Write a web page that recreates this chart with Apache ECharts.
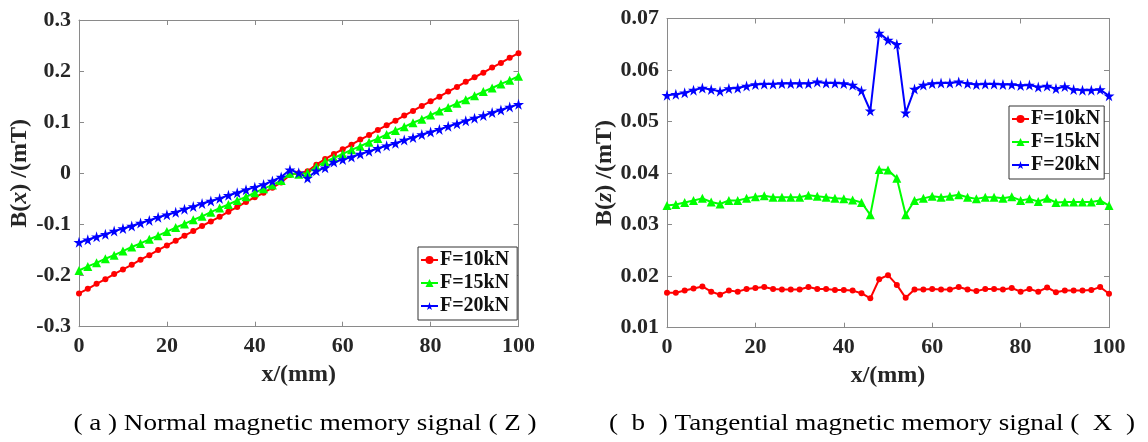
<!DOCTYPE html>
<html>
<head>
<meta charset="utf-8">
<style>
  html, body { margin: 0; padding: 0; background: #fff; }
  #chart { width: 1148px; height: 442px; }
</style>
<script src="https://cdn.jsdelivr.net/npm/echarts@6/dist/echarts.min.js"></script>
</head>
<body>
<div id="chart"></div>
<script>
// Scan positions along the specimen (mm)
const positions = [0, 2, 4, 6, 8, 10, 12, 14, 16, 18, 20, 22, 24, 26, 28, 30, 32, 34, 36, 38, 40, 42, 44, 46, 48, 50,
  52, 54, 56, 58, 60, 62, 64, 66, 68, 70, 72, 74, 76, 78, 80, 82, 84, 86, 88, 90, 92, 94, 96, 98, 100];

const seriesNames = ['F=10kN', 'F=15kN', 'F=20kN'];

// (a) Normal component B(x), mT
const normal10 = [-0.235, -0.226, -0.216, -0.207, -0.197, -0.188, -0.179, -0.169, -0.160, -0.150, -0.141, -0.132, -0.122,
  -0.113, -0.103, -0.094, -0.085, -0.075, -0.066, -0.056, -0.047, -0.038, -0.028, -0.018, -0.003, 0.000, 0.004, 0.017,
  0.028, 0.038, 0.047, 0.056, 0.066, 0.075, 0.085, 0.094, 0.103, 0.113, 0.122, 0.132, 0.141, 0.150, 0.160, 0.169,
  0.179, 0.188, 0.197, 0.207, 0.216, 0.226, 0.235];
const normal15 = [-0.190, -0.182, -0.175, -0.167, -0.160, -0.152, -0.144, -0.137, -0.129, -0.122, -0.114, -0.106, -0.099,
  -0.091, -0.084, -0.076, -0.068, -0.061, -0.053, -0.046, -0.038, -0.030, -0.023, -0.014, 0.000, -0.002, 0.001, 0.013,
  0.023, 0.030, 0.038, 0.046, 0.053, 0.061, 0.068, 0.076, 0.084, 0.091, 0.099, 0.106, 0.114, 0.122, 0.129, 0.137,
  0.144, 0.152, 0.160, 0.167, 0.175, 0.182, 0.190];
const normal20 = [-0.135, -0.130, -0.124, -0.119, -0.113, -0.108, -0.103, -0.097, -0.092, -0.086, -0.081, -0.076, -0.070,
  -0.065, -0.059, -0.054, -0.049, -0.043, -0.038, -0.032, -0.027, -0.022, -0.015, -0.007, 0.007, 0.001, -0.009, 0.005,
  0.011, 0.022, 0.027, 0.032, 0.038, 0.043, 0.049, 0.054, 0.059, 0.065, 0.070, 0.076, 0.081, 0.086, 0.092, 0.097,
  0.103, 0.108, 0.113, 0.119, 0.124, 0.130, 0.135];

// (b) Tangential component B(z), mT
const tangent10 = [0.0168, 0.0168, 0.0172, 0.0176, 0.0180, 0.0170, 0.0164, 0.0172, 0.0170, 0.0175, 0.0177, 0.0179, 0.0175,
  0.0174, 0.0174, 0.0174, 0.0179, 0.0175, 0.0175, 0.0173, 0.0173, 0.0172, 0.0167, 0.0157, 0.0194, 0.0202, 0.0183, 0.0158,
  0.0174, 0.0174, 0.0175, 0.0174, 0.0174, 0.0179, 0.0174, 0.0171, 0.0175, 0.0175, 0.0174, 0.0177, 0.0170, 0.0175,
  0.0170, 0.0178, 0.0169, 0.0172, 0.0172, 0.0172, 0.0173, 0.0179, 0.0166];
const tangent15 = [0.0337, 0.0339, 0.0343, 0.0347, 0.0351, 0.0344, 0.0340, 0.0347, 0.0347, 0.0351, 0.0354, 0.0356, 0.0353,
  0.0353, 0.0353, 0.0353, 0.0357, 0.0355, 0.0353, 0.0351, 0.0350, 0.0348, 0.0343, 0.0319, 0.0407, 0.0406, 0.0390, 0.0319,
  0.0347, 0.0351, 0.0355, 0.0353, 0.0355, 0.0358, 0.0353, 0.0350, 0.0353, 0.0353, 0.0351, 0.0354, 0.0347, 0.0350,
  0.0345, 0.0351, 0.0343, 0.0344, 0.0344, 0.0344, 0.0344, 0.0347, 0.0337];
const tangent20 = [0.0551, 0.0553, 0.0556, 0.0561, 0.0565, 0.0562, 0.0559, 0.0564, 0.0565, 0.0569, 0.0572, 0.0573, 0.0573,
  0.0574, 0.0574, 0.0574, 0.0574, 0.0577, 0.0575, 0.0575, 0.0574, 0.0571, 0.0560, 0.0521, 0.0672, 0.0658, 0.0650, 0.0517,
  0.0563, 0.0571, 0.0574, 0.0575, 0.0575, 0.0577, 0.0574, 0.0572, 0.0573, 0.0573, 0.0572, 0.0572, 0.0570, 0.0571,
  0.0567, 0.0569, 0.0564, 0.0568, 0.0562, 0.0561, 0.0561, 0.0562, 0.0550];

const captions = ['( a ) Normal magnetic memory signal ( Z )', '(  b  ) Tangential magnetic memory signal (  X  )'];

const STAR = 'path://M50,0 L61,35 L98,35 L68,57 L79,91 L50,70 L21,91 L32,57 L2,35 L39,35 Z';
const colors = ['#ff0000', '#00ff00', '#0000ff'];
const symbols = ['circle', 'triangle', STAR];
const symbolSizes = [6, 9, 11];

const FONT = '"Liberation Serif", "Times New Roman", serif';
const AXIS_GRAY = '#8a8a8a';
const TEXT_DARK = '#262626';

function pairs(ys) { return positions.map((x, i) => [x, ys[i]]); }

function frameAxes(gridIndex, yMin, yMax, yStep, yName, yNameGap) {
  const line = { show: true, onZero: false, lineStyle: { color: AXIS_GRAY, width: 1 } };
  const tick = { show: true, inside: true, length: 5, lineStyle: { color: AXIS_GRAY, width: 1 } };
  const label = { color: TEXT_DARK, fontFamily: FONT, fontWeight: 'bold', fontSize: 22 };
  return {
    x: [
      { type: 'value', gridIndex, min: 0, max: 100, interval: 20, position: 'bottom',
        axisLine: line, axisTick: tick, splitLine: { show: false },
        axisLabel: Object.assign({ margin: 9 }, label),
        name: 'x/(mm)', nameLocation: 'middle', nameGap: 36,
        nameTextStyle: { color: TEXT_DARK, fontFamily: FONT, fontWeight: 'bold', fontSize: 24 } },
      { type: 'value', gridIndex, min: 0, max: 100, interval: 20, position: 'top',
        axisLine: line, axisTick: tick, splitLine: { show: false }, axisLabel: { show: false } }
    ],
    y: [
      { type: 'value', gridIndex, min: yMin, max: yMax, interval: yStep, position: 'left',
        axisLine: line, axisTick: tick, splitLine: { show: false },
        axisLabel: Object.assign({ margin: 8 }, label),
        name: yName, nameLocation: 'middle', nameRotate: 90, nameGap: yNameGap,
        nameTextStyle: {
          color: TEXT_DARK, fontFamily: FONT, fontWeight: 'bold', fontSize: 24,
          rich: {
            b: { color: TEXT_DARK, fontFamily: FONT, fontWeight: 'bold', fontSize: 24 },
            i: { color: TEXT_DARK, fontFamily: FONT, fontWeight: 'bold', fontStyle: 'italic', fontSize: 24 }
          }
        } },
      { type: 'value', gridIndex, min: yMin, max: yMax, interval: yStep, position: 'right',
        axisLine: line, axisTick: tick, splitLine: { show: false }, axisLabel: { show: false } }
    ]
  };
}

const left = frameAxes(0, -0.3, 0.3, 0.1, '{b|B(}{i|x}{b|) /(mT)}', 42);
const right = frameAxes(1, 0.01, 0.07, 0.01, '{b|B(}{i|z}{b|) /(mT)}', 47);

function makeSeries(values, k, xAxisIndex, yAxisIndex) {
  return {
    type: 'line', name: seriesNames[k], xAxisIndex, yAxisIndex,
    data: pairs(values),
    symbol: symbols[k], symbolSize: symbolSizes[k], showSymbol: true,
    lineStyle: { color: colors[k], width: 2 },
    itemStyle: { color: colors[k] },
    emphasis: { disabled: true },
    animation: false
  };
}

const legendBase = {
  orient: 'vertical', backgroundColor: '#fff', borderColor: '#333', borderWidth: 1,
  itemWidth: 17, itemHeight: 10, itemGap: 3,
  textStyle: { color: '#111', fontFamily: FONT, fontWeight: 'bold', fontSize: 20, padding: [0, 0, 0, -3] },
  data: seriesNames
};

// Figure captions under each panel
function caption(text, cx) {
  return { type: 'text', x: cx, y: 424, scaleX: 1.13, scaleY: 1,
    style: { text, textAlign: 'center', textVerticalAlign: 'middle', font: '24px ' + FONT, fill: '#000' } };
}

const chart = echarts.init(document.getElementById('chart'), null, { renderer: 'canvas' });
chart.setOption({
  backgroundColor: '#ffffff',
  animation: false,
  grid: [
    { left: 79, top: 20, width: 439.5, height: 306.7 },
    { left: 667, top: 18.5, width: 442, height: 309.2 }
  ],
  xAxis: left.x.concat(right.x),
  yAxis: left.y.concat(right.y),
  legend: [
    Object.assign({ left: 418, top: 247, padding: [3, 8, 4, 2] }, legendBase),
    Object.assign({ left: 1009, top: 106, padding: [3, 4, 4, 2] }, legendBase)
  ],
  series: [
    makeSeries(normal10, 0, 0, 0),
    makeSeries(normal15, 1, 0, 0),
    makeSeries(normal20, 2, 0, 0),
    makeSeries(tangent10, 0, 2, 2),
    makeSeries(tangent15, 1, 2, 2),
    makeSeries(tangent20, 2, 2, 2)
  ],
  graphic: [caption(captions[0], 305), caption(captions[1], 872)]
});
</script>
</body>
</html>
